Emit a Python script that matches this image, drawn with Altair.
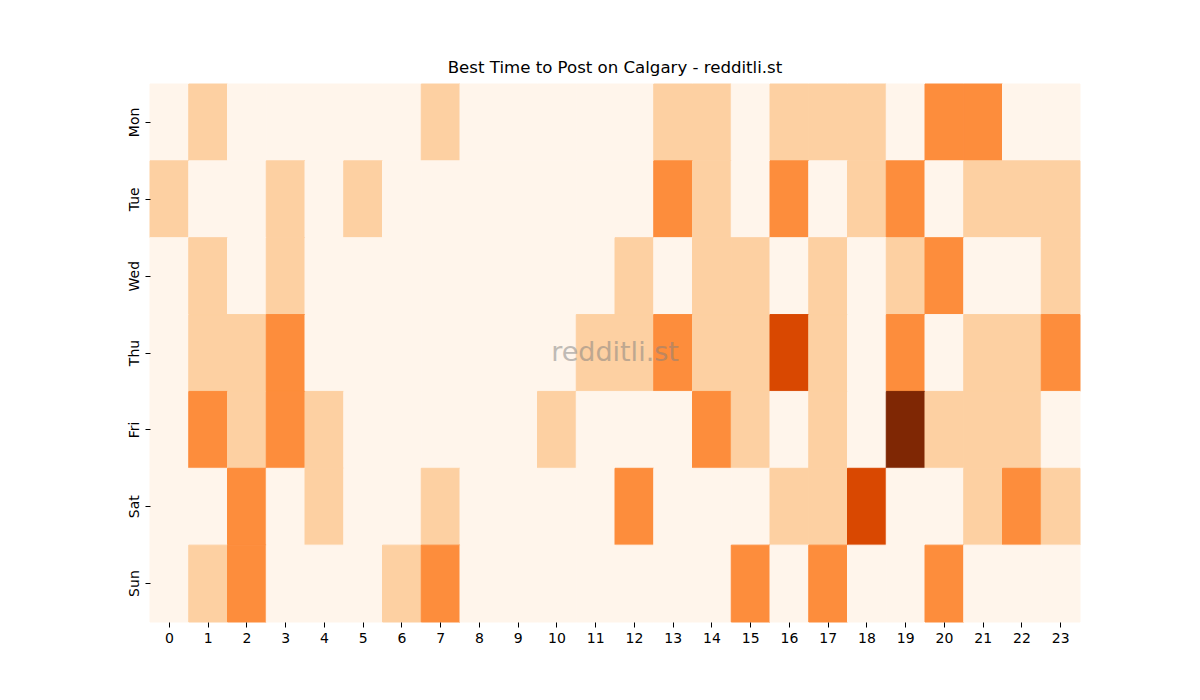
"""
Best time to post heatmap, Oranges theme.
"""

import altair as alt
import pandas as pd

days = ["Mon", "Tue", "Wed", "Thu", "Fri", "Sat", "Sun"]
hours = list(range(24))

# activity level per hour (0-23), one list per day
mon = [0, 1, 0, 0, 0, 0, 0, 1, 0, 0, 0, 0, 0, 1, 1, 0, 1, 1, 1, 0, 2, 2, 0, 0]
tue = [1, 0, 0, 1, 0, 1, 0, 0, 0, 0, 0, 0, 0, 2, 1, 0, 2, 0, 1, 2, 0, 1, 1, 1]
wed = [0, 1, 0, 1, 0, 0, 0, 0, 0, 0, 0, 0, 1, 0, 1, 1, 0, 1, 0, 1, 2, 0, 0, 1]
thu = [0, 1, 1, 2, 0, 0, 0, 0, 0, 0, 0, 1, 1, 2, 1, 1, 3, 1, 0, 2, 0, 1, 1, 2]
fri = [0, 2, 1, 2, 1, 0, 0, 0, 0, 0, 1, 0, 0, 0, 2, 1, 0, 1, 0, 4, 1, 1, 1, 0]
sat = [0, 0, 2, 0, 1, 0, 0, 1, 0, 0, 0, 0, 2, 0, 0, 0, 1, 1, 3, 0, 0, 1, 2, 1]
sun = [0, 1, 2, 0, 0, 0, 1, 2, 0, 0, 0, 0, 0, 0, 0, 2, 0, 2, 0, 0, 2, 0, 0, 0]

rows = [mon, tue, wed, thu, fri, sat, sun]
records = []
for day, vals in zip(days, rows):
    for h, v in zip(hours, vals):
        records.append({"Day": day, "Hour": h, "Value": v})
df = pd.DataFrame(records)

FONT = "DejaVu Sans"
levels = [0, 1, 2, 3, 4]
oranges = ["#fff5eb", "#fdd0a2", "#fd8d3c", "#d94801", "#7f2704"]

heat = (
    alt.Chart(df)
    .mark_rect(strokeWidth=1, opacity=1)
    .encode(
        x=alt.X(
            "Hour:O",
            sort=hours,
            scale=alt.Scale(paddingInner=0, paddingOuter=0),
            axis=alt.Axis(
                title=None, labelAngle=0, labelFontSize=14, labelColor="#000",
                labelFont=FONT, tickColor="#000", tickSize=5, domain=False,
                labelPadding=4,
            ),
        ),
        y=alt.Y(
            "Day:O",
            sort=days,
            scale=alt.Scale(paddingInner=0, paddingOuter=0),
            axis=alt.Axis(
                title=None, labelAngle=-90, labelFontSize=14, labelColor="#000",
                labelFont=FONT, tickColor="#000", tickSize=5, domain=False,
                labelAlign="center", labelBaseline="bottom", labelPadding=4,
            ),
        ),
        color=alt.Color(
            "Value:Q", scale=alt.Scale(domain=levels, range=oranges), legend=None
        ),
        stroke=alt.Stroke(
            "Value:Q", scale=alt.Scale(domain=levels, range=oranges), legend=None
        ),
    )
)

watermark = (
    alt.Chart(pd.DataFrame({"t": ["redditli.st"]}))
    .mark_text(fontSize=27, font=FONT, color="#808080", opacity=0.5,
               align="center", baseline="middle")
    .encode(x=alt.value(465), y=alt.value(269), text="t:N")
)

chart = (
    (heat + watermark)
    .properties(
        width=930,
        height=538,
        autosize=alt.AutoSizeParams(type="none"),
        padding={"left": 142, "top": 76, "right": 110, "bottom": 70},
        title=alt.TitleParams(
            "Best Time to Post on Calgary - redditli.st",
            fontSize=16.6, font=FONT, fontWeight="normal", color="#000", offset=7,
        ),
    )
    .configure_view(strokeWidth=0)
    .configure_axis(grid=False)
)

chart.save("out.html", embed_options={"renderer": "svg", "actions": False})
